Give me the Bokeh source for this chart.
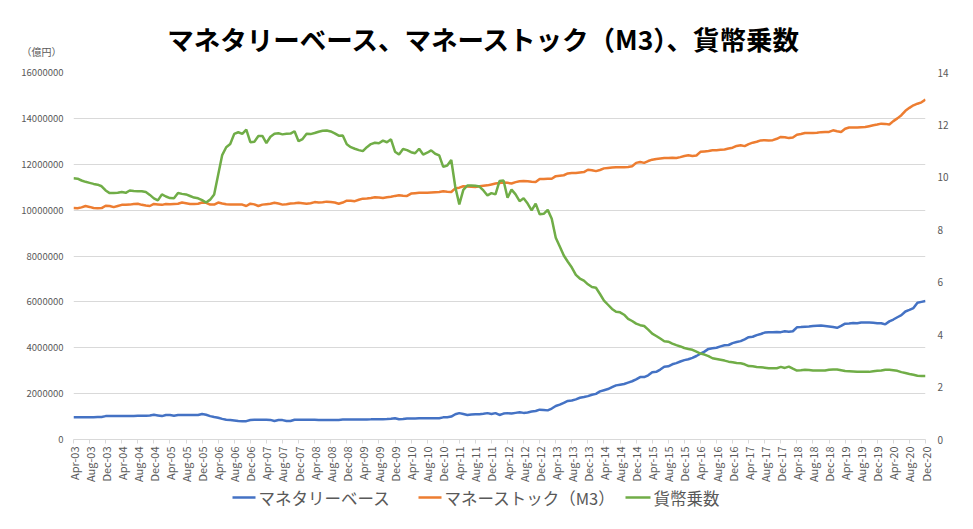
import math
from bokeh.plotting import figure
from bokeh.models import Range1d, LinearAxis, FixedTicker
from bokeh.layouts import column
from bokeh.core.properties import value
from bokeh.embed import file_html
from bokeh.resources import INLINE

# Monthly data, Apr-2003 .. Dec-2020 (213 months)
# Monetary base (億円)
monetary_base = [
    973000, 972000, 974000, 973000, 975000, 974000, 976000, 978000, 1020000,
    1020000, 1022000, 1025000, 1025000, 1027000, 1026000, 1028000, 1030000, 1031000, 1033000, 1050000, 1078000,
    1050000, 1020000, 1070000, 1065000, 1040000, 1068000, 1070000, 1068000, 1070000, 1069000, 1071000, 1110000,
    1080000, 1020000, 980000, 950000, 900000, 860000, 845000, 830000, 810000, 800000, 800000, 850000,
    858000, 860000, 858000, 860000, 855000, 805000, 850000, 845000, 805000, 805000, 858000, 860000,
    858000, 860000, 858000, 860000, 852000, 850000, 852000, 850000, 853000, 855000, 870000, 872000,
    872000, 874000, 874000, 876000, 877000, 878000, 880000, 882000, 884000, 890000, 905000, 930000,
    885000, 890000, 920000, 918000, 920000, 922000, 921000, 923000, 925000, 924000, 930000, 965000,
    970000, 1000000, 1100000, 1150000, 1110000, 1070000, 1090000, 1100000, 1100000, 1120000, 1150000, 1110000,
    1150000, 1070000, 1130000, 1150000, 1130000, 1160000, 1190000, 1160000, 1180000, 1220000, 1240000, 1300000,
    1290000, 1270000, 1350000, 1460000, 1520000, 1600000, 1680000, 1700000, 1750000, 1820000, 1850000, 1890000,
    1950000, 1990000, 2100000, 2150000, 2200000, 2280000, 2360000, 2390000, 2420000, 2480000, 2540000, 2620000,
    2720000, 2720000, 2800000, 2930000, 2950000, 3050000, 3170000, 3190000, 3280000, 3330000, 3400000, 3460000,
    3500000, 3560000, 3640000, 3740000, 3830000, 3950000, 3980000, 4000000, 4060000, 4110000, 4120000, 4200000,
    4250000, 4290000, 4370000, 4460000, 4480000, 4550000, 4600000, 4660000, 4680000, 4680000, 4690000, 4680000,
    4720000, 4700000, 4720000, 4890000, 4900000, 4920000, 4930000, 4950000, 4960000, 4970000, 4950000, 4930000,
    4900000, 4870000, 4950000, 5050000, 5060000, 5080000, 5070000, 5100000, 5100000, 5100000, 5090000, 5070000,
    5070000, 5020000, 5150000, 5230000, 5330000, 5420000, 5580000, 5650000, 5730000, 5960000, 6000000, 6040000,
]

# Money stock M3 (億円)
money_stock = [
    10090000, 10080000, 10120000, 10180000, 10140000, 10090000, 10080000, 10090000, 10190000,
    10180000, 10130000, 10180000, 10230000, 10230000, 10240000, 10270000, 10280000, 10230000, 10200000, 10180000, 10270000,
    10250000, 10230000, 10270000, 10260000, 10270000, 10280000, 10330000, 10300000, 10270000, 10270000, 10280000, 10330000,
    10320000, 10240000, 10240000, 10330000, 10290000, 10260000, 10250000, 10240000, 10250000, 10240000, 10180000, 10280000,
    10250000, 10180000, 10240000, 10260000, 10280000, 10320000, 10290000, 10240000, 10260000, 10290000, 10300000, 10320000,
    10300000, 10280000, 10300000, 10350000, 10330000, 10340000, 10370000, 10350000, 10330000, 10280000, 10330000, 10410000,
    10410000, 10390000, 10450000, 10500000, 10510000, 10530000, 10560000, 10550000, 10530000, 10560000, 10580000, 10620000,
    10650000, 10630000, 10620000, 10720000, 10740000, 10760000, 10760000, 10760000, 10770000, 10780000, 10790000, 10820000,
    10800000, 10790000, 10950000, 10980000, 11040000, 11030000, 11020000, 11010000, 11040000, 11060000, 11080000, 11120000,
    11160000, 11180000, 11200000, 11190000, 11160000, 11220000, 11260000, 11270000, 11260000, 11240000, 11230000, 11360000,
    11360000, 11370000, 11370000, 11480000, 11500000, 11520000, 11600000, 11620000, 11620000, 11640000, 11660000, 11760000,
    11740000, 11700000, 11750000, 11820000, 11840000, 11860000, 11870000, 11870000, 11870000, 11880000, 11910000, 12060000,
    12100000, 12060000, 12140000, 12200000, 12230000, 12250000, 12270000, 12270000, 12280000, 12270000, 12310000, 12360000,
    12390000, 12360000, 12380000, 12540000, 12560000, 12580000, 12610000, 12610000, 12630000, 12640000, 12690000, 12720000,
    12800000, 12830000, 12790000, 12880000, 12940000, 12980000, 13040000, 13050000, 13040000, 13050000, 13110000, 13190000,
    13180000, 13140000, 13170000, 13290000, 13320000, 13360000, 13360000, 13360000, 13370000, 13400000, 13410000, 13410000,
    13480000, 13440000, 13410000, 13550000, 13600000, 13600000, 13600000, 13610000, 13620000, 13660000, 13700000, 13730000,
    13770000, 13760000, 13730000, 13880000, 14000000, 14140000, 14330000, 14460000, 14570000, 14640000, 14700000, 14820000,
]

# Money multiplier (right axis)
multiplier = [
    9.97, 9.95, 9.88, 9.83, 9.79, 9.75, 9.72, 9.66, 9.50,
    9.40, 9.40, 9.41, 9.44, 9.41, 9.50, 9.48, 9.47, 9.47, 9.44, 9.33, 9.20,
    9.12, 9.35, 9.27, 9.21, 9.20, 9.40, 9.37, 9.35, 9.29, 9.23, 9.20, 9.13,
    9.04, 9.15, 9.35, 10.10, 10.85, 11.15, 11.27, 11.66, 11.72, 11.66, 11.82, 11.34,
    11.36, 11.58, 11.58, 11.31, 11.55, 11.66, 11.68, 11.64, 11.66, 11.67, 11.76, 11.38,
    11.46, 11.66, 11.65, 11.69, 11.74, 11.78, 11.79, 11.75, 11.68, 11.59, 11.60, 11.26,
    11.15, 11.09, 11.04, 11.00, 11.15, 11.27, 11.32, 11.30, 11.40, 11.34, 11.45, 10.98,
    10.87, 11.08, 11.04, 10.96, 10.92, 11.09, 10.87, 10.94, 11.03, 10.90, 10.84, 10.40,
    10.45, 10.66, 9.63, 8.97, 9.52, 9.69, 9.69, 9.68, 9.65, 9.50, 9.31, 9.40,
    9.35, 9.86, 9.88, 9.22, 9.53, 9.35, 9.09, 9.20, 9.00, 8.74, 9.00, 8.59,
    8.61, 8.76, 8.42, 7.70, 7.36, 7.02, 6.78, 6.56, 6.28, 6.14, 6.06, 5.92,
    5.82, 5.79, 5.55, 5.30, 5.14, 4.98, 4.87, 4.85, 4.76, 4.60, 4.52, 4.42,
    4.36, 4.33, 4.19, 4.04, 3.95, 3.85, 3.75, 3.73, 3.66, 3.60, 3.55, 3.49,
    3.45, 3.42, 3.35, 3.28, 3.24, 3.18, 3.10, 3.07, 3.04, 3.01, 2.97, 2.95,
    2.92, 2.91, 2.87, 2.80, 2.79, 2.77, 2.76, 2.74, 2.72, 2.72, 2.72, 2.77,
    2.73, 2.78, 2.70, 2.63, 2.64, 2.66, 2.65, 2.63, 2.63, 2.63, 2.63, 2.66,
    2.67, 2.67, 2.64, 2.61, 2.60, 2.59, 2.58, 2.58, 2.58, 2.58, 2.60, 2.62,
    2.63, 2.66, 2.66, 2.64, 2.62, 2.57, 2.54, 2.50, 2.47, 2.43, 2.42, 2.42,
]

tick_labels = [
    "Apr-03", "Aug-03", "Dec-03", "Apr-04", "Aug-04", "Dec-04", "Apr-05", "Aug-05", "Dec-05",
    "Apr-06", "Aug-06", "Dec-06", "Apr-07", "Aug-07", "Dec-07", "Apr-08", "Aug-08", "Dec-08",
    "Apr-09", "Aug-09", "Dec-09", "Apr-10", "Aug-10", "Dec-10", "Apr-11", "Aug-11", "Dec-11",
    "Apr-12", "Aug-12", "Dec-12", "Apr-13", "Aug-13", "Dec-13", "Apr-14", "Aug-14", "Dec-14",
    "Apr-15", "Aug-15", "Dec-15", "Apr-16", "Aug-16", "Dec-16", "Apr-17", "Aug-17", "Dec-17",
    "Apr-18", "Aug-18", "Dec-18", "Apr-19", "Aug-19", "Dec-19", "Apr-20", "Aug-20", "Dec-20",
]
left_ticks = [0, 2000000, 4000000, 6000000, 8000000, 10000000, 12000000, 14000000, 16000000]
right_ticks = [0, 2, 4, 6, 8, 10, 12, 14]

series_names = ["マネタリーベース", "マネーストック（M3）", "貨幣乗数"]
series_colors = ["#4472C4", "#ED7D31", "#70AD47"]
title_text = "マネタリーベース、マネーストック（M3）、貨幣乗数"
unit_text = "（億円）"

FONT = "Noto Sans CJK JP"
GRAY = "#595959"
GRID = "#d9d9d9"
W = 965
FL, FR = 73, 925          # frame left / right in page pixels
HEAD_H = 60
FRAME_TOP, FRAME_BOT = 72, 439
BOT_BORDER = 47
MAIN_H = FRAME_BOT - HEAD_H + BOT_BORDER
FOOT_H = 36


def bare(fig):
    fig.outline_line_color = None
    fig.xgrid.visible = False
    fig.ygrid.visible = False
    return fig


# ---------- header (title + unit) ----------
head = bare(figure(width=W, height=HEAD_H, output_backend="svg", toolbar_location=None,
                   x_range=Range1d(FL, FR), y_range=Range1d(HEAD_H, 0), x_axis_type=None,
                   min_border_left=FL, min_border_right=W - FR, min_border_top=0, min_border_bottom=0))
hy = head.yaxis[0]
hy.ticker = FixedTicker(ticks=[51])
hy.major_label_overrides = {51: unit_text}
hy.axis_line_color = None
hy.major_tick_line_color = None
hy.minor_tick_line_color = None
hy.major_tick_out = 0
hy.major_label_standoff = 12
hy.major_label_text_font = FONT
hy.major_label_text_font_size = "10px"
hy.major_label_text_color = GRAY
head.text(x=[484], y=[38], text=[title_text], text_align="center", text_baseline="middle",
          text_font=value(FONT), text_font_size="26.5px", text_font_style="bold", text_color="#000000")

# ---------- main chart ----------
n = len(monetary_base)
xs = list(range(n))
tick_pos = [4 * k for k in range(len(tick_labels))]

p = figure(width=W, height=MAIN_H, output_backend="svg", toolbar_location=None,
           x_range=Range1d(0, n - 1), y_range=Range1d(0, 16000000),
           min_border_left=FL, min_border_right=W - FR, min_border_top=FRAME_TOP - HEAD_H,
           min_border_bottom=BOT_BORDER)
p.outline_line_color = None
p.background_fill_color = "white"
p.extra_y_ranges = {"mult": Range1d(0, 14)}

ya = p.yaxis[0]
ya.ticker = FixedTicker(ticks=left_ticks)
ya.major_label_overrides = {t: str(t) for t in left_ticks}
ya.axis_line_color = None
ya.major_tick_line_color = None
ya.minor_tick_line_color = None
ya.major_tick_out = 0
ya.major_label_standoff = 10
ya.major_label_text_font = FONT
ya.major_label_text_font_size = "9.5px"
ya.major_label_text_color = GRAY

ra = LinearAxis(y_range_name="mult", ticker=FixedTicker(ticks=right_ticks))
ra.axis_line_color = None
ra.major_tick_line_color = None
ra.minor_tick_line_color = None
ra.major_tick_out = 0
ra.major_label_standoff = 12
ra.major_label_text_font = FONT
ra.major_label_text_font_size = "10px"
ra.major_label_text_color = GRAY
p.add_layout(ra, "right")

xa = p.xaxis[0]
xa.ticker = FixedTicker(ticks=tick_pos)
xa.major_label_overrides = {t: lab for t, lab in zip(tick_pos, tick_labels)}
xa.major_label_orientation = math.pi / 2
xa.axis_line_color = GRID
xa.major_tick_line_color = GRID
xa.major_tick_in = 0
xa.major_tick_out = 4
xa.minor_tick_line_color = None
xa.major_label_standoff = 3
xa.major_label_text_font = FONT
xa.major_label_text_font_size = "11px"
xa.major_label_text_color = GRAY

p.xgrid.grid_line_color = None
p.ygrid.ticker = FixedTicker(ticks=left_ticks)
p.ygrid.grid_line_color = GRID
p.ygrid.grid_line_width = 1

p.line(xs, monetary_base, line_color=series_colors[0], line_width=2.5)
p.line(xs, money_stock, line_color=series_colors[1], line_width=2.5)
p.line(xs, multiplier, line_color=series_colors[2], line_width=2.5, y_range_name="mult")

# ---------- footer (legend) ----------
foot = bare(figure(width=W, height=FOOT_H, output_backend="svg", toolbar_location=None,
                   x_range=Range1d(FL, FR), y_range=Range1d(FOOT_H, 0),
                   x_axis_type=None, y_axis_type=None,
                   min_border_left=FL, min_border_right=W - FR, min_border_top=0, min_border_bottom=0))
key_x0 = [232, 418, 625]
key_x1 = [255, 441, 650]
key_y = 11
foot.segment(x0=key_x0, y0=[key_y] * 3, x1=key_x1, y1=[key_y] * 3,
             line_color=series_colors, line_width=2.5)
foot.text(x=[x + 3 for x in key_x1], y=[key_y] * 3, text=series_names,
          text_align="left", text_baseline="middle", text_font=value(FONT),
          text_font_size="16.5px", text_color=GRAY)

layout = column(head, p, foot, spacing=0)
open("out.html", "w").write(file_html(layout, INLINE))
